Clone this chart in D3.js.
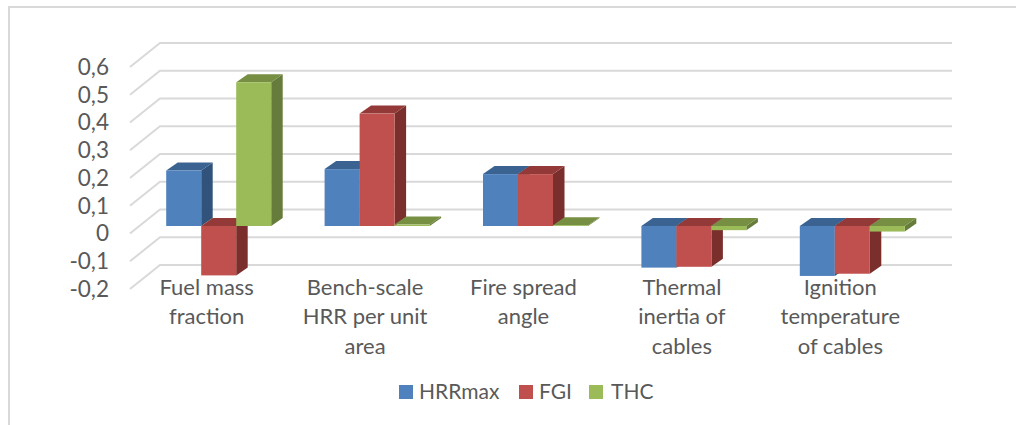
<!DOCTYPE html>
<html lang="en">
<head>
<meta charset="UTF-8">
<title>3D column chart</title>
<script src="https://d3js.org/d3.v7.min.js"></script>
<style>
    html, body { margin: 0; padding: 0; background: #fff; }
    svg { display: block; font-family: "Lato", sans-serif; }
    text { fill: #595959; }
</style>
</head>
<body>
<svg width="1016" height="425"></svg>
<script>
    const categories = [
        ["Fuel mass", "fraction"],
        ["Bench-scale", "HRR per unit", "area"],
        ["Fire spread", "angle"],
        ["Thermal", "inertia of", "cables"],
        ["Ignition", "temperature", "of cables"]
    ];
    const seriesNames = ["HRRmax", "FGI", "THC"];
    const hrrMax = [0.2, 0.205, 0.187, -0.15, -0.18];
    const fgi = [-0.178, 0.405, 0.187, -0.147, -0.172];
    const thc = [0.518, 0.005, 0.003, -0.015, -0.02];
    const yTicks = [0.6, 0.5, 0.4, 0.3, 0.2, 0.1, 0, -0.1, -0.2];

    const seriesValues = [hrrMax, fgi, thc];
    const colors = [
        { front: "#4f81bd", top: "#3a6391", side: "#30527b" },
        { front: "#c0504d", top: "#933a38", side: "#7a2f2d" },
        { front: "#9bbb59", top: "#778f43", side: "#667c3a" }
    ];

    const svg = d3.select("svg");

    // front plane of the floor/walls, the back wall is shifted by (30,-24)
    const x = d3.scaleBand().domain(d3.range(categories.length)).range([130, 922]);
    const y = d3.scaleLinear().domain([-0.2, 0.6]).range([289, 67]);
    const wallDx = 30, wallDy = -24;
    const barDepthDx = 11.5, barDepthDy = -8;
    const barOffsetDx = 9.5, barOffsetDy = -7.5;
    const barW = 35;
    const xSeries = d3.scaleBand().domain(d3.range(3)).range([0, barW * 3]);

    // chart frame, only top and left show in the crop
    svg.append("path")
        .attr("d", "M9,425V7H1016")
        .attr("fill", "none")
        .attr("stroke", "#d9d9d9")
        .attr("stroke-width", 2);

    const grid = svg.append("g").attr("fill", "none").attr("stroke", "#d9d9d9").attr("stroke-width", 2);
    yTicks.forEach(t => {
        const p = d3.path();
        p.moveTo(130, y(t));
        p.lineTo(130 + wallDx, y(t) + wallDy);
        p.lineTo(922 + wallDx, y(t) + wallDy);
        grid.append("path").attr("d", p.toString());
    });

    svg.append("g")
        .selectAll("text")
        .data(yTicks)
        .join("text")
        .attr("x", 109)
        .attr("y", d => y(d))
        .attr("dy", "0.35em")
        .attr("text-anchor", "end")
        .style("font-size", "22.5px")
        .text(d => String(d).replace(".", ","));

    const poly = pts => d3.line()(pts) + "Z";

    categories.forEach((cat, i) => {
        const g = svg.append("g");
        seriesValues.forEach((vals, s) => {
            const left = x(i) + x.bandwidth() / 2 - barW * 1.5 + barOffsetDx + xSeries(s);
            const right = left + barW;
            const zero = y(0) + barOffsetDy;
            const end = y(vals[i]) + barOffsetDy;
            const top = Math.min(zero, end), bottom = Math.max(zero, end);
            const c = colors[s];
            g.append("path").attr("fill", c.side).attr("d", poly([
                [right, top], [right + barDepthDx, top + barDepthDy],
                [right + barDepthDx, bottom + barDepthDy], [right, bottom]
            ]));
            g.append("path").attr("fill", c.top).attr("d", poly([
                [left, top], [left + barDepthDx, top + barDepthDy],
                [right + barDepthDx, top + barDepthDy], [right, top]
            ]));
            g.append("rect")
                .attr("x", left).attr("y", top)
                .attr("width", barW).attr("height", bottom - top)
                .attr("fill", c.front);
        });
        svg.append("text")
            .attr("text-anchor", "middle")
            .style("font-size", "22px")
            .selectAll("tspan")
            .data(cat)
            .join("tspan")
            .attr("x", x(i) + x.bandwidth() / 2 - 2.5)
            .attr("y", (d, k) => 295 + k * 29.3)
            .text(d => d);
    });

    const legendSwatchX = [399, 519, 589];
    const legendTextX = [419, 539, 611];
    const legend = svg.append("g").selectAll("g").data(seriesNames).join("g");
    legend.append("rect")
        .attr("x", (d, i) => legendSwatchX[i]).attr("y", 385)
        .attr("width", 14).attr("height", 14)
        .attr("fill", (d, i) => colors[i].front);
    legend.append("text")
        .attr("x", (d, i) => legendTextX[i]).attr("y", 399)
        .style("font-size", "21px")
        .text(d => d);
</script>
</body>
</html>
